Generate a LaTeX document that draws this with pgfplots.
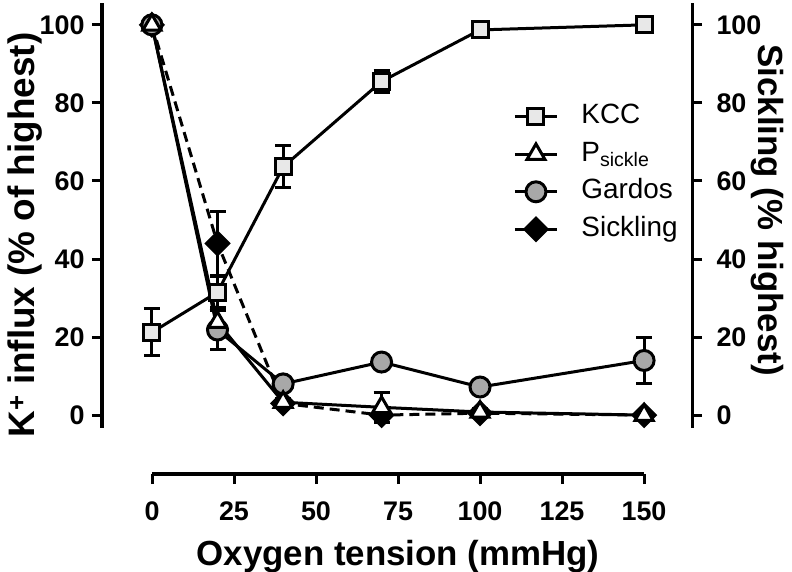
\documentclass[border=0pt]{standalone}
\usepackage{fontspec}
\setmainfont{Liberation Sans}
\usepackage{pgfplots}
\usepackage{pgfplotstable}
\pgfplotsset{compat=1.18}
\definecolor{kccfill}{RGB}{232,232,232}
\definecolor{gardosfill}{RGB}{168,168,168}

% oxygen tension, mean, error
\pgfplotstableread{
x y e
0 21.2 6
20 31.5 4
40 63.6 5.4
70 85.5 2.8
100 98.7 0.8
150 100 0.5
}\kcc
\pgfplotstableread{
x y e
0 100 0
20 23.8 3
40 3.3 1
70 2.0 3.8
100 0.8 1
150 0 0.5
}\psickle
\pgfplotstableread{
x y e
0 100 0
20 21.8 5
40 8.0 1
70 13.6 1
100 7.2 1
150 14.0 6
}\gardos
\pgfplotstableread{
x y e
0 100 0
20 44.0 8.2
40 3.0 1
70 0.0 1.8
100 0.5 1
150 0 0.5
}\sickling

\pgfplotsset{
  myaxis/.style={
    scale only axis,
    axis line style={line width=3bp, black},
    tick style={line width=3bp, black},
    major tick length=10bp,
    tick align=outside,
    /pgf/number format/assume math mode=true,
    ticklabel style={font=\fontsize{27}{27}\selectfont\bfseries},
    label style={font=\fontsize{35}{35}\selectfont\bfseries},
  },
  series/.style={black, line width=3bp,
    error bars/y dir=both, error bars/y explicit,
    error bars/error bar style={line width=3bp, solid},
    error bars/error mark options={rotate=90, mark size=8bp, line width=3bp, solid}},
}

\begin{document}
\begin{tikzpicture}
\useasboundingbox (0,0) rectangle (792bp,572bp);

% left axis with the data
\begin{axis}[myaxis,
  at={(102bp,144bp)}, anchor=south west,
  width=590bp, height=425bp,
  xmin=-15.2, xmax=164.6, ymin=-3.3, ymax=105.6,
  axis x line=none, axis y line*=left,
  ytick={0,20,...,100},
  yticklabel style={anchor=east, xshift=-4bp},
  clip=false,
  ylabel={K\textsuperscript{+} influx (\% of highest)},
  ylabel style={at={(axis description cs:-0.1305,0.454)}, anchor=center,
    font=\fontsize{37}{37}\selectfont\bfseries},
  reverse legend,
  legend cell align=left,
  legend image code/.code={\draw[mark repeat=2,mark phase=2,#1] plot coordinates {(0bp,0bp) (21bp,0bp) (42bp,0bp)};},
  legend style={at={(axis description cs:0.692,0.768)}, anchor=north west,
    draw=none, fill=none, font=\fontsize{28}{28}\selectfont,
    row sep=11.5bp, nodes={inner sep=0pt, text height=20bp, text depth=6bp},
    /tikz/every odd column/.append style={column sep=23bp}},
]
\addplot[series, dash pattern=on 10bp off 6bp, mark=square*, mark size=7.8bp,
  mark options={solid, rotate=45, fill=black}]
  table[x=x, y=y, y error=e] {\sickling};
\addlegendentry{Sickling}
\addplot[series, mark=*, mark size=10bp, mark options={fill=gardosfill}]
  table[x=x, y=y, y error=e] {\gardos};
\addlegendentry{Gardos}
\addplot[series, mark=triangle*, mark size=10.4bp, mark options={fill=white}]
  table[x=x, y=y, y error=e] {\psickle};
\addlegendentry{P\textsubscript{sickle}}
\addplot[series, mark=square*, mark size=8bp, mark options={fill=kccfill}]
  table[x=x, y=y, y error=e] {\kcc};
\addlegendentry{KCC}
\end{axis}

% right axis
\begin{axis}[myaxis,
  at={(102bp,144bp)}, anchor=south west,
  width=590bp, height=425bp,
  xmin=-15.2, xmax=164.6, ymin=-3.3, ymax=105.6,
  axis x line=none, axis y line*=right,
  ytick={0,20,...,100},
  yticklabel style={anchor=west, xshift=11bp},
  ylabel={Sickling (\% highest)},
  ylabel style={at={(axis description cs:1.127,0.513)}, anchor=center, rotate=180},
]
\end{axis}

% detached x axis
\begin{axis}[myaxis,
  at={(152bp,98bp)}, anchor=south west,
  width=492bp, height=10bp,
  xmin=0, xmax=150, ymin=0, ymax=1,
  axis y line=none, axis x line*=bottom,
  xtick={0,25,...,150},
  xticklabel style={anchor=north, yshift=-14bp},
  xlabel={Oxygen tension (mmHg)},
  xlabel style={at={(axis description cs:0.5,0)}, anchor=base, yshift=-91bp},
]
\end{axis}
\end{tikzpicture}
\end{document}
